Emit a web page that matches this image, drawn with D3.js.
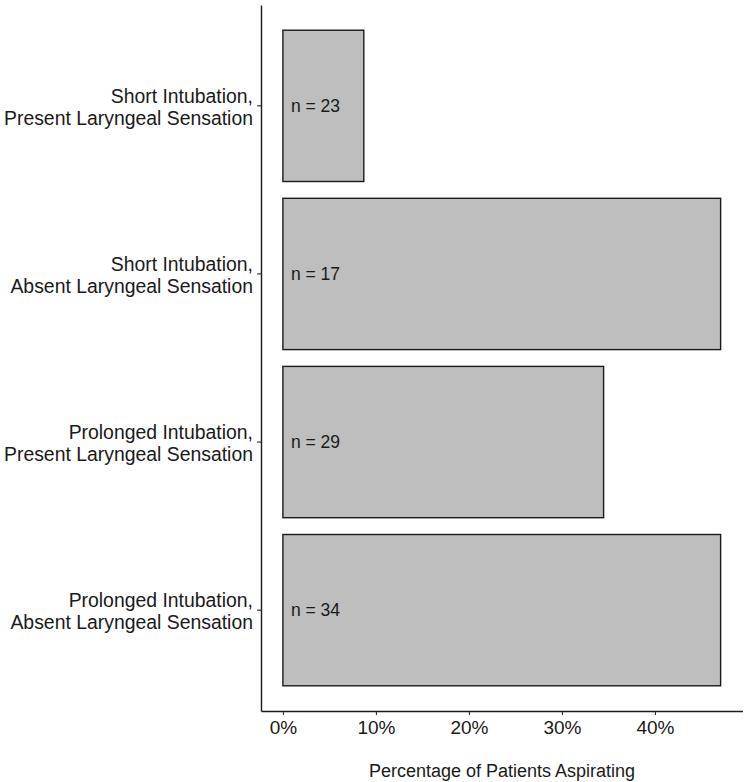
<!DOCTYPE html>
<html>
<head>
<meta charset="utf-8">
<script src="https://cdn.jsdelivr.net/npm/d3@7"></script>
<style>
  body { margin: 0; background: #fff; }
  text { font-family: "Liberation Sans", Arial, sans-serif; fill: #1a1a1a; }
</style>
</head>
<body>
<div id="chart"></div>
<script>
const groups = [
  ["Short Intubation,", "Present Laryngeal Sensation"],
  ["Short Intubation,", "Absent Laryngeal Sensation"],
  ["Prolonged Intubation,", "Present Laryngeal Sensation"],
  ["Prolonged Intubation,", "Absent Laryngeal Sensation"]
];
const percents = [8.7, 47.06, 34.48, 47.06];
const counts = [23, 17, 29, 34];
const xTicks = [0, 10, 20, 30, 40];

const width = 748;
const height = 782;

const svg = d3.select('#chart')
  .append('svg')
  .attr('width', width)
  .attr('height', height)

const xMax = d3.max(percents);
const pad = xMax * 0.05;

let xScale = d3.scaleLinear()
  .domain([-pad, xMax + pad])
  .range([261, 742.5])

let yScale = d3.scaleBand()
  .domain(d3.range(groups.length))
  .range([5, 711])
  .paddingInner(0.1)
  .paddingOuter(0.15)

// bars
svg.append('g')
  .selectAll('rect')
  .data(percents)
  .enter()
  .append('rect')
  .attr('x', xScale(0))
  .attr('y', (d, i) => yScale(i))
  .attr('width', (d) => xScale(d) - xScale(0))
  .attr('height', yScale.bandwidth())
  .attr('fill', '#bebebe')
  .attr('stroke', '#1a1a1a')
  .attr('stroke-width', 1.4)

// n labels
svg.append('g')
  .selectAll('text')
  .data(counts)
  .enter()
  .append('text')
  .attr('x', xScale(0) + 8)
  .attr('y', (d, i) => yScale(i) + yScale.bandwidth() / 2)
  .attr('dy', '0.35em')
  .style('font-size', '17.5px')
  .text((d) => `n = ${d}`)

let xAxis = d3.axisBottom(xScale)
  .tickValues(xTicks)
  .tickFormat((d) => d + '%')
  .tickSize(4)
  .tickPadding(6)
  .tickSizeOuter(0)

let yAxis = d3.axisLeft(yScale)
  .tickSize(4)
  .tickSizeOuter(0)
  .tickFormat('')

const gx = svg.append('g')
  .attr('transform', `translate(0, 711)`)
  .call(xAxis)

gx.select('.domain').attr('stroke', '#1a1a1a').attr('stroke-width', 1.4)
gx.selectAll('.tick line').attr('stroke', '#1a1a1a')
gx.selectAll('.tick text')
  .style('font-size', '19px')
  .attr('font-family', null)
  .attr('fill', null)

const gy = svg.append('g')
  .attr('transform', `translate(261, 0)`)
  .call(yAxis)

gy.select('.domain').attr('stroke', '#1a1a1a').attr('stroke-width', 1.4)
gy.selectAll('.tick line').attr('stroke', '#1a1a1a')

// two-line category labels
svg.append('g')
  .selectAll('text')
  .data(groups)
  .enter()
  .append('text')
  .attr('text-anchor', 'end')
  .attr('y', (d, i) => yScale(i) + yScale.bandwidth() / 2)
  .style('font-size', '19.4px')
  .each(function(d) {
    const t = d3.select(this);
    t.append('tspan').attr('x', 253).attr('dy', '-0.15em').text(d[0]);
    t.append('tspan').attr('x', 253).attr('dy', '1.13em').text(d[1]);
  })

svg.append('text')
  .attr('x', 502)
  .attr('y', 777)
  .attr('text-anchor', 'middle')
  .style('font-size', '18px')
  .text('Percentage of Patients Aspirating')
</script>
</body>
</html>
